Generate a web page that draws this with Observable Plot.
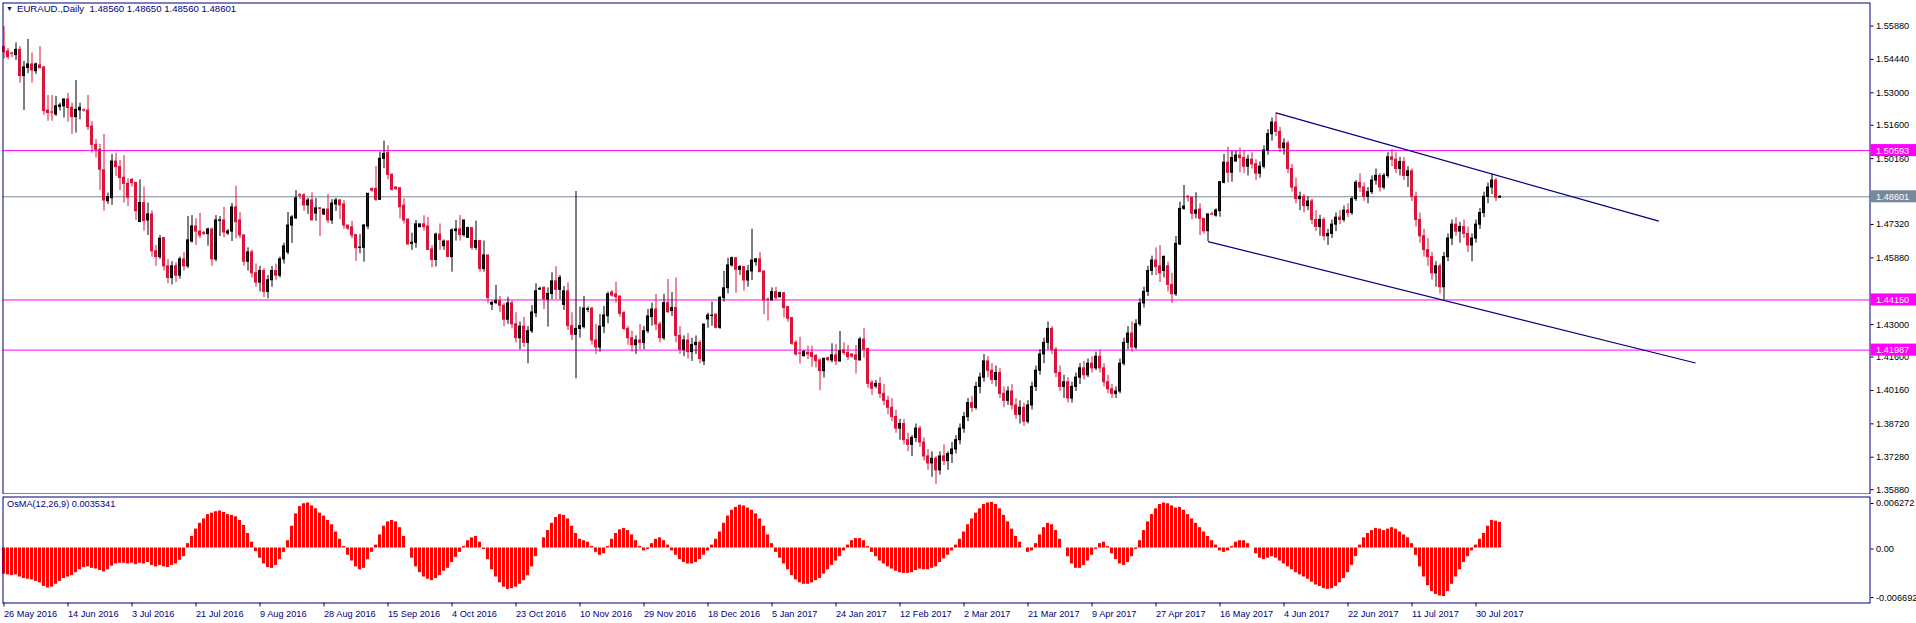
<!DOCTYPE html>
<html><head><meta charset="utf-8">
<script src="https://cdn.jsdelivr.net/npm/d3@7"></script>
<script src="https://cdn.jsdelivr.net/npm/@observablehq/plot@0.6"></script>
<style>
html,body{margin:0;padding:0;background:#fff;}
#wrap{position:relative;width:1916px;height:623px;overflow:hidden;background:#fff;}
#main{position:absolute;left:0;top:0;}
#osma{position:absolute;left:0;top:494px;}
svg{overflow:visible}
</style></head><body><div id="wrap"><div id="main"></div><div id="osma"></div></div>
<script>
const symbolName = "EURAUD.,Daily";
const lastOHLC = [1.48560, 1.48650, 1.48560, 1.48601];
const osmaName = "OsMA(12,26,9)";
const osmaLast = "0.0035341";
const dateLabels = ["26 May 2016","14 Jun 2016","3 Jul 2016","21 Jul 2016","9 Aug 2016","28 Aug 2016","15 Sep 2016","4 Oct 2016","23 Oct 2016","10 Nov 2016","29 Nov 2016","18 Dec 2016","5 Jan 2017","24 Jan 2017","12 Feb 2017","2 Mar 2017","21 Mar 2017","9 Apr 2017","27 Apr 2017","16 May 2017","4 Jun 2017","22 Jun 2017","11 Jul 2017","30 Jul 2017"];
const dateTickBars = [0,16,32,48,64,80,96,112,128,144,160,176,192,208,224,240,256,272,288,304,320,336,352,368];
const priceTicks = [1.55880,1.54440,1.53000,1.51600,1.50160,1.47320,1.45880,1.43000,1.41600,1.40160,1.38720,1.37280,1.35880];
const levelPrices = [1.50593, 1.44150, 1.41987];
const bidPrice = 1.48601;
const osmaTicks = [0.006272, 0, -0.006692];
const trendBars1 = [318, 413.7], trendPrices1 = [1.5222, 1.4755];
const trendBars2 = [301, 422.9], trendPrices2 = [1.4667, 1.4143];

const open = [
1.5506,1.5487,1.5478,1.5471,1.5494,1.5381,1.5416,1.5431,1.5402,1.5427,
1.5418,1.5232,1.5224,1.5215,1.5248,1.5250,1.5280,1.5244,1.5204,1.5233,
1.5233,1.5232,1.5163,1.5084,1.5063,1.4974,1.4841,1.4854,1.5012,1.4988,
1.4942,1.4916,1.4933,1.4920,1.4751,1.4833,1.4758,1.4784,1.4625,1.4600,
1.4682,1.4560,1.4510,1.4560,1.4520,1.4590,1.4560,1.4667,1.4732,1.4710,
1.4703,1.4699,1.4719,1.4590,1.4756,1.4758,1.4702,1.4710,1.4814,1.4758,
1.4693,1.4580,1.4620,1.4530,1.4490,1.4540,1.4450,1.4500,1.4540,1.4520,
1.4590,1.4620,1.4736,1.4767,1.4867,1.4866,1.4823,1.4844,1.4788,1.4810,
1.4784,1.4805,1.4758,1.4827,1.4844,1.4827,1.4736,1.4728,1.4695,1.4640,
1.4640,1.4732,1.4894,1.4894,1.4847,1.5024,1.5048,1.4955,1.4900,1.4897,
1.4822,1.4762,1.4657,1.4662,1.4729,1.4741,1.4732,1.4633,1.4588,1.4697,
1.4647,1.4667,1.4600,1.4712,1.4719,1.4695,1.4683,1.4725,1.4640,1.4669,
1.4549,1.4607,1.4395,1.4402,1.4410,1.4390,1.4330,1.4400,1.4310,1.4250,
1.4300,1.4230,1.4280,1.4358,1.4460,1.4466,1.4417,1.4441,1.4495,1.4459,
1.4394,1.4452,1.4302,1.4265,1.4290,1.4298,1.4373,1.4378,1.4240,1.4210,
1.4300,1.4345,1.4447,1.4439,1.4430,1.4358,1.4290,1.4250,1.4220,1.4240,
1.4230,1.4280,1.4341,1.4374,1.4309,1.4250,1.4401,1.4367,1.4380,1.4260,
1.4200,1.4240,1.4190,1.4220,1.4230,1.4150,1.4331,1.4346,1.4352,1.4295,
1.4423,1.4466,1.4564,1.4595,1.4545,1.4557,1.4499,1.4538,1.4578,1.4590,
1.4538,1.4416,1.4413,1.4449,1.4427,1.4444,1.4384,1.4337,1.4230,1.4184,
1.4173,1.4187,1.4187,1.4173,1.4154,1.4108,1.4164,1.4154,1.4176,1.4150,
1.4197,1.4187,1.4180,1.4176,1.4154,1.4244,1.4204,1.4056,1.4042,1.4053,
1.4010,1.3980,1.3950,1.3910,1.3860,1.3880,1.3810,1.3790,1.3820,1.3860,
1.3800,1.3740,1.3710,1.3730,1.3680,1.3740,1.3720,1.3750,1.3770,1.3810,
1.3860,1.3910,1.3970,1.3950,1.4040,1.4080,1.4150,1.4110,1.4070,1.4100,
1.4010,1.3980,1.4020,1.3960,1.3920,1.3950,1.3890,1.3960,1.4040,1.4110,
1.4180,1.4230,1.4290,1.4200,1.4100,1.4040,1.4060,1.3990,1.4040,1.4080,
1.4120,1.4090,1.4140,1.4120,1.4170,1.4120,1.4060,1.4030,1.4010,1.4020,
1.4140,1.4230,1.4270,1.4210,1.4310,1.4400,1.4450,1.4540,1.4585,1.4560,
1.4540,1.4560,1.4480,1.4440,1.4654,1.4808,1.4860,1.4856,1.4787,1.4805,
1.4765,1.4712,1.4784,1.4779,1.4798,1.4920,1.5007,1.4964,1.5012,1.5038,
1.5027,1.4990,1.5020,1.5000,1.4960,1.4990,1.5060,1.5130,1.5180,1.5140,
1.5070,1.5090,1.4980,1.4900,1.4850,1.4860,1.4820,1.4840,1.4760,1.4730,
1.4760,1.4690,1.4700,1.4740,1.4770,1.4760,1.4800,1.4790,1.4850,1.4920,
1.4900,1.4860,1.4880,1.4930,1.4950,1.4900,1.4950,1.5030,1.5020,1.4980,
1.5010,1.4950,1.4970,1.4860,1.4760,1.4690,1.4630,1.4600,1.4530,1.4560,
1.4470,1.4600,1.4680,1.4740,1.4710,1.4730,1.4700,1.4650,1.4680,1.4740,
1.4790,1.4860,1.4900,1.4930,1.48560];

const high = [
1.5595,1.5500,1.5484,1.5524,1.5508,1.5444,1.5539,1.5480,1.5437,1.5508,
1.5422,1.5297,1.5297,1.5293,1.5264,1.5280,1.5306,1.5264,1.5362,1.5264,
1.5240,1.5297,1.5185,1.5107,1.5086,1.5129,1.4876,1.5043,1.5048,1.5017,
1.5038,1.4938,1.4938,1.4920,1.4933,1.4902,1.4833,1.4800,1.4650,1.4693,
1.4685,1.4590,1.4580,1.4575,1.4600,1.4620,1.4775,1.4779,1.4765,1.4789,
1.4710,1.4725,1.4725,1.4779,1.4775,1.4814,1.4719,1.4831,1.4906,1.4792,
1.4697,1.4640,1.4630,1.4570,1.4560,1.4550,1.4520,1.4560,1.4570,1.4600,
1.4660,1.4792,1.4779,1.4887,1.4874,1.4874,1.4853,1.4877,1.4853,1.4814,
1.4805,1.4870,1.4848,1.4853,1.4848,1.4844,1.4736,1.4754,1.4695,1.4697,
1.4741,1.4873,1.4897,1.4991,1.5053,1.5100,1.5080,1.4959,1.4904,1.4900,
1.4851,1.4762,1.4703,1.4758,1.4741,1.4778,1.4771,1.4650,1.4703,1.4743,
1.4674,1.4671,1.4722,1.4758,1.4779,1.4758,1.4729,1.4725,1.4755,1.4669,
1.4669,1.4607,1.4410,1.4478,1.4430,1.4400,1.4427,1.4410,1.4360,1.4320,
1.4340,1.4300,1.4391,1.4485,1.4470,1.4473,1.4467,1.4532,1.4559,1.4521,
1.4473,1.4488,1.4360,1.4883,1.4384,1.4430,1.4385,1.4381,1.4309,1.4352,
1.4387,1.4449,1.4456,1.4492,1.4430,1.4365,1.4300,1.4280,1.4260,1.4309,
1.4300,1.4374,1.4401,1.4439,1.4320,1.4439,1.4503,1.4447,1.4510,1.4300,
1.4260,1.4270,1.4250,1.4260,1.4240,1.4309,1.4358,1.4406,1.4352,1.4430,
1.4538,1.4595,1.4600,1.4595,1.4564,1.4557,1.4564,1.4720,1.4593,1.4620,
1.4538,1.4424,1.4467,1.4470,1.4449,1.4444,1.4384,1.4337,1.4240,1.4254,
1.4197,1.4216,1.4216,1.4181,1.4161,1.4164,1.4168,1.4226,1.4222,1.4279,
1.4230,1.4219,1.4183,1.4219,1.4254,1.4291,1.4204,1.4068,1.4068,1.4080,
1.4050,1.4000,1.3990,1.3940,1.3900,1.3900,1.3840,1.3830,1.3880,1.3870,
1.3820,1.3770,1.3760,1.3740,1.3760,1.3790,1.3760,1.3800,1.3830,1.3880,
1.3930,1.3990,1.4000,1.4060,1.4100,1.4180,1.4170,1.4140,1.4130,1.4120,
1.4040,1.4040,1.4050,1.3990,1.3980,1.3970,1.3980,1.4060,1.4130,1.4200,
1.4250,1.4320,1.4300,1.4210,1.4130,1.4090,1.4080,1.4060,1.4100,1.4140,
1.4150,1.4160,1.4170,1.4190,1.4200,1.4140,1.4090,1.4050,1.4040,1.4160,
1.4250,1.4300,1.4320,1.4330,1.4420,1.4470,1.4560,1.4604,1.4640,1.4650,
1.4604,1.4578,1.4530,1.4689,1.4837,1.4909,1.4866,1.4856,1.4877,1.4830,
1.4765,1.4784,1.4794,1.4808,1.4923,1.5043,1.5074,1.5056,1.5056,1.5070,
1.5060,1.5040,1.5050,1.5020,1.5010,1.5080,1.5150,1.5200,1.5222,1.5160,
1.5110,1.5100,1.5000,1.4940,1.4880,1.4870,1.4860,1.4850,1.4800,1.4780,
1.4770,1.4720,1.4760,1.4790,1.4800,1.4820,1.4830,1.4860,1.4930,1.4960,
1.4920,1.4900,1.4950,1.4980,1.4960,1.4960,1.5050,1.5065,1.5050,1.5030,
1.5030,1.4990,1.4980,1.4880,1.4790,1.4720,1.4680,1.4620,1.4580,1.4570,
1.4620,1.4700,1.4760,1.4770,1.4750,1.4760,1.4730,1.4700,1.4760,1.4810,
1.4880,1.4920,1.4958,1.4940,1.48650];

const low = [
1.5455,1.5451,1.5460,1.5448,1.5350,1.5232,1.5391,1.5350,1.5388,1.5412,
1.5211,1.5186,1.5186,1.5207,1.5230,1.5200,1.5182,1.5129,1.5135,1.5192,
1.5225,1.5146,1.5048,1.5027,1.4887,1.4798,1.4827,1.4823,1.4948,1.4887,
1.4833,1.4818,1.4902,1.4758,1.4751,1.4712,1.4693,1.4600,1.4560,1.4590,
1.4540,1.4485,1.4480,1.4490,1.4505,1.4540,1.4550,1.4660,1.4650,1.4679,
1.4693,1.4647,1.4560,1.4580,1.4689,1.4683,1.4693,1.4667,1.4679,1.4679,
1.4560,1.4540,1.4510,1.4470,1.4450,1.4425,1.4420,1.4470,1.4500,1.4510,
1.4570,1.4610,1.4659,1.4762,1.4848,1.4797,1.4784,1.4758,1.4754,1.4689,
1.4779,1.4745,1.4741,1.4797,1.4762,1.4720,1.4715,1.4679,1.4582,1.4614,
1.4578,1.4719,1.4880,1.4840,1.4847,1.4981,1.4933,1.4884,1.4887,1.4765,
1.4743,1.4654,1.4629,1.4638,1.4729,1.4712,1.4631,1.4554,1.4557,1.4629,
1.4629,1.4600,1.4535,1.4669,1.4669,1.4686,1.4683,1.4629,1.4629,1.4535,
1.4535,1.4398,1.4370,1.4395,1.4360,1.4300,1.4310,1.4290,1.4230,1.4200,
1.4210,1.4140,1.4270,1.4338,1.4456,1.4374,1.4298,1.4417,1.4417,1.4417,
1.4370,1.4283,1.4240,1.4075,1.4250,1.4290,1.4360,1.4220,1.4180,1.4190,
1.4270,1.4312,1.4427,1.4401,1.4341,1.4283,1.4220,1.4190,1.4180,1.4200,
1.4200,1.4270,1.4302,1.4283,1.4230,1.4240,1.4358,1.4344,1.4230,1.4180,
1.4170,1.4160,1.4150,1.4180,1.4140,1.4132,1.4293,1.4302,1.4291,1.4288,
1.4406,1.4441,1.4557,1.4444,1.4521,1.4453,1.4470,1.4499,1.4561,1.4532,
1.4352,1.4324,1.4413,1.4413,1.4423,1.4337,1.4319,1.4219,1.4173,1.4139,
1.4168,1.4158,1.4125,1.4122,1.4024,1.4078,1.4150,1.4144,1.4132,1.4147,
1.4176,1.4154,1.4164,1.4096,1.4154,1.4164,1.4034,1.4003,1.4032,1.3990,
1.3960,1.3920,1.3890,1.3840,1.3810,1.3790,1.3760,1.3740,1.3800,1.3780,
1.3720,1.3680,1.3650,1.3620,1.3660,1.3700,1.3680,1.3710,1.3750,1.3790,
1.3840,1.3890,1.3930,1.3940,1.4010,1.4060,1.4080,1.4050,1.4040,1.3990,
1.3950,1.3960,1.3940,1.3900,1.3880,1.3870,1.3880,1.3940,1.4020,1.4090,
1.4140,1.4200,1.4180,1.4080,1.4020,1.3990,1.3970,1.3970,1.4020,1.4050,
1.4070,1.4080,1.4100,1.4110,1.4100,1.4040,1.4010,1.3990,1.3990,1.4010,
1.4130,1.4200,1.4190,1.4200,1.4300,1.4380,1.4430,1.4520,1.4520,1.4490,
1.4510,1.4450,1.4400,1.4430,1.4650,1.4801,1.4837,1.4761,1.4765,1.4693,
1.4700,1.4667,1.4779,1.4772,1.4772,1.4916,1.4920,1.4923,1.5012,1.4964,
1.4960,1.4950,1.4980,1.4930,1.4940,1.4980,1.5040,1.5100,1.5120,1.5050,
1.5040,1.4960,1.4880,1.4830,1.4800,1.4790,1.4800,1.4740,1.4710,1.4690,
1.4670,1.4650,1.4680,1.4710,1.4740,1.4750,1.4770,1.4780,1.4840,1.4880,
1.4840,1.4830,1.4870,1.4910,1.4880,1.4890,1.4940,1.4990,1.4960,1.4950,
1.4930,1.4900,1.4840,1.4730,1.4660,1.4600,1.4560,1.4500,1.4470,1.4440,
1.4415,1.4580,1.4650,1.4690,1.4660,1.4680,1.4620,1.4580,1.4660,1.4720,
1.4770,1.4830,1.4870,1.4840,1.48560];

const close = [
1.5484,1.5463,1.5477,1.5494,1.5381,1.5418,1.5431,1.5405,1.5431,1.5415,
1.5230,1.5221,1.5223,1.5250,1.5254,1.5280,1.5243,1.5204,1.5235,1.5244,
1.5232,1.5161,1.5084,1.5063,1.4977,1.4844,1.4859,1.5012,1.4988,1.4941,
1.4916,1.4856,1.4919,1.4798,1.4833,1.4755,1.4784,1.4625,1.4600,1.4679,
1.4560,1.4510,1.4560,1.4520,1.4590,1.4560,1.4672,1.4732,1.4710,1.4693,
1.4700,1.4719,1.4590,1.4758,1.4758,1.4706,1.4710,1.4814,1.4751,1.4693,
1.4580,1.4620,1.4530,1.4490,1.4540,1.4450,1.4500,1.4540,1.4520,1.4590,
1.4646,1.4736,1.4771,1.4853,1.4865,1.4823,1.4844,1.4758,1.4810,1.4808,
1.4805,1.4758,1.4831,1.4844,1.4823,1.4736,1.4723,1.4693,1.4638,1.4641,
1.4736,1.4873,1.4887,1.4847,1.5024,1.5045,1.4955,1.4890,1.4893,1.4815,
1.4758,1.4654,1.4662,1.4741,1.4741,1.4729,1.4631,1.4588,1.4697,1.4674,
1.4667,1.4600,1.4715,1.4719,1.4695,1.4758,1.4725,1.4640,1.4669,1.4549,
1.4607,1.4423,1.4402,1.4410,1.4390,1.4330,1.4400,1.4310,1.4250,1.4300,
1.4230,1.4280,1.4361,1.4452,1.4463,1.4417,1.4441,1.4495,1.4459,1.4510,
1.4452,1.4302,1.4265,1.4290,1.4302,1.4378,1.4375,1.4240,1.4210,1.4300,
1.4348,1.4439,1.4434,1.4427,1.4355,1.4290,1.4250,1.4220,1.4240,1.4230,
1.4280,1.4344,1.4374,1.4309,1.4250,1.4401,1.4362,1.4380,1.4260,1.4200,
1.4240,1.4190,1.4220,1.4230,1.4160,1.4309,1.4348,1.4347,1.4295,1.4424,
1.4465,1.4564,1.4595,1.4545,1.4557,1.4499,1.4538,1.4585,1.4590,1.4535,
1.4413,1.4415,1.4449,1.4423,1.4444,1.4380,1.4334,1.4226,1.4180,1.4183,
1.4190,1.4180,1.4169,1.4151,1.4108,1.4161,1.4155,1.4176,1.4150,1.4193,
1.4186,1.4168,1.4171,1.4157,1.4244,1.4201,1.4053,1.4032,1.4053,1.4010,
1.3980,1.3950,1.3910,1.3860,1.3880,1.3810,1.3790,1.3820,1.3860,1.3800,
1.3740,1.3710,1.3730,1.3680,1.3740,1.3720,1.3750,1.3770,1.3810,1.3860,
1.3910,1.3970,1.3950,1.4040,1.4080,1.4150,1.4110,1.4070,1.4100,1.4010,
1.3980,1.4020,1.3960,1.3920,1.3950,1.3890,1.3960,1.4040,1.4110,1.4180,
1.4230,1.4290,1.4200,1.4100,1.4040,1.4060,1.3990,1.4040,1.4080,1.4120,
1.4090,1.4140,1.4120,1.4170,1.4120,1.4060,1.4030,1.4010,1.4020,1.4140,
1.4230,1.4270,1.4210,1.4310,1.4400,1.4450,1.4540,1.4585,1.4557,1.4530,
1.4601,1.4480,1.4440,1.4657,1.4808,1.4818,1.4858,1.4787,1.4801,1.4765,
1.4711,1.4784,1.4783,1.4801,1.4923,1.5007,1.4964,1.5027,1.5038,1.5027,
1.4990,1.5020,1.5000,1.4960,1.4990,1.5060,1.5130,1.5180,1.5140,1.5070,
1.5090,1.4980,1.4900,1.4850,1.4860,1.4820,1.4840,1.4760,1.4730,1.4760,
1.4690,1.4700,1.4740,1.4770,1.4760,1.4800,1.4790,1.4850,1.4920,1.4900,
1.4860,1.4880,1.4930,1.4950,1.4900,1.4950,1.5030,1.5020,1.4980,1.5010,
1.4950,1.4970,1.4860,1.4760,1.4690,1.4630,1.4600,1.4530,1.4560,1.4470,
1.4600,1.4680,1.4740,1.4710,1.4730,1.4700,1.4650,1.4680,1.4740,1.4790,
1.4860,1.4900,1.4930,1.4856,1.48601];

const osma = [
-0.0036,-0.0037,-0.0038,-0.0037,-0.0040,-0.0042,-0.0043,-0.0044,-0.0046,-0.0048,
-0.0053,-0.0055,-0.0054,-0.0050,-0.0046,-0.0042,-0.0040,-0.0038,-0.0034,-0.0030,
-0.0027,-0.0026,-0.0028,-0.0029,-0.0031,-0.0033,-0.0030,-0.0025,-0.0022,-0.0021,
-0.0021,-0.0022,-0.0021,-0.0023,-0.0021,-0.0022,-0.0020,-0.0024,-0.0026,-0.0024,
-0.0026,-0.0027,-0.0024,-0.0022,-0.0017,-0.0012,0.0006,0.0016,0.0026,0.0034,
0.0040,0.0046,0.0048,0.0050,0.0051,0.0049,0.0046,0.0045,0.0043,0.0038,
0.0031,0.0020,0.0008,-0.0005,-0.0014,-0.0022,-0.0027,-0.0028,-0.0024,-0.0016,
-0.0006,0.0010,0.0030,0.0047,0.0057,0.0061,0.0062,0.0058,0.0054,0.0048,
0.0044,0.0038,0.0032,0.0022,0.0012,0.0002,-0.0010,-0.0018,-0.0026,-0.0030,
-0.0028,-0.0016,-0.0006,0.0004,0.0018,0.0030,0.0036,0.0038,0.0036,0.0028,
0.0016,0.0000,-0.0014,-0.0026,-0.0034,-0.0040,-0.0043,-0.0045,-0.0042,-0.0038,
-0.0032,-0.0028,-0.0020,-0.0013,-0.0006,0.0002,0.0010,0.0014,0.0016,0.0008,
-0.0002,-0.0016,-0.0030,-0.0040,-0.0048,-0.0054,-0.0057,-0.0056,-0.0054,-0.0050,
-0.0045,-0.0038,-0.0026,-0.0012,0.0000,0.0014,0.0024,0.0034,0.0042,0.0046,
0.0045,0.0040,0.0030,0.0020,0.0012,0.0010,0.0008,0.0002,-0.0006,-0.0010,
-0.0008,0.0002,0.0012,0.0020,0.0025,0.0027,0.0024,0.0018,0.0010,0.0002,
-0.0004,-0.0002,0.0006,0.0012,0.0014,0.0010,0.0004,-0.0004,-0.0010,-0.0016,
-0.0020,-0.0022,-0.0022,-0.0020,-0.0016,-0.0010,-0.0004,0.0004,0.0012,0.0022,
0.0034,0.0044,0.0052,0.0056,0.0059,0.0058,0.0055,0.0052,0.0047,0.0040,
0.0030,0.0018,0.0006,-0.0006,-0.0014,-0.0022,-0.0030,-0.0038,-0.0044,-0.0048,
-0.0050,-0.0050,-0.0048,-0.0045,-0.0042,-0.0036,-0.0030,-0.0024,-0.0018,-0.0012,
-0.0004,0.0004,0.0010,0.0013,0.0013,0.0010,0.0002,-0.0006,-0.0012,-0.0018,
-0.0022,-0.0026,-0.0029,-0.0032,-0.0034,-0.0035,-0.0035,-0.0034,-0.0031,-0.0029,
-0.0030,-0.0030,-0.0028,-0.0026,-0.0020,-0.0015,-0.0010,-0.0004,0.0004,0.0012,
0.0022,0.0032,0.0040,0.0048,0.0054,0.0060,0.0062,0.006272,0.0060,0.0054,
0.0045,0.0036,0.0026,0.0016,0.0008,0.0000,-0.0006,-0.0004,0.0006,0.0018,
0.0028,0.0034,0.0032,0.0024,0.0012,0.0000,-0.0012,-0.0022,-0.0028,-0.0028,
-0.0024,-0.0018,-0.0010,-0.0002,0.0006,0.0008,0.0002,-0.0008,-0.0016,-0.0022,
-0.0024,-0.0020,-0.0012,-0.0002,0.0010,0.0024,0.0036,0.0046,0.0054,0.0060,
0.0062,0.0061,0.0058,0.0055,0.0056,0.0052,0.0046,0.0040,0.0034,0.0028,
0.0022,0.0016,0.0010,0.0004,-0.0004,-0.0006,-0.0004,0.0002,0.0008,0.0010,
0.0010,0.0006,0.0000,-0.0008,-0.0014,-0.0016,-0.0014,-0.0012,-0.0014,-0.0018,
-0.0022,-0.0026,-0.0030,-0.0034,-0.0037,-0.0040,-0.0043,-0.0047,-0.0051,-0.0053,
-0.0056,-0.0057,-0.0056,-0.0053,-0.0048,-0.0042,-0.0034,-0.0024,-0.0012,0.0004,
0.0014,0.0020,0.0024,0.0027,0.0026,0.0024,0.0026,0.0028,0.0026,0.0022,
0.0018,0.0014,0.0006,-0.0010,-0.0026,-0.0040,-0.0052,-0.0060,-0.0064,-0.0066,
-0.006692,-0.0060,-0.0050,-0.0040,-0.0030,-0.0020,-0.0012,-0.0004,0.0004,0.0012,
0.0020,0.0030,0.0038,0.0037,0.0035341];

const NAVY = "#000080";
const UP_FILL = "#15153c";
const DOWN = "#dc143c";
const FONT = "'Liberation Sans', Arial, sans-serif";
const FS = 9.2;
const xDomain = [-0.25, 466.5];

const bars = close.map((c, i) => ({i, o: open[i], h: high[i], l: low[i], c, up: c >= open[i]}));
const osmaBars = osma.map((v, i) => ({i, v}));
const trends = [
  {b1: trendBars1[0], p1: trendPrices1[0], b2: trendBars1[1], p2: trendPrices1[1]},
  {b1: trendBars2[0], p1: trendPrices2[0], b2: trendBars2[1], p2: trendPrices2[1]}
];
const labelBoxes = levelPrices.map(p => ({p, bg: "#ff00ff"})).concat([{p: bidPrice, bg: "#778899"}]);
const half = 0.0026;
const fmt5 = d => d.toFixed(5);

const main = Plot.plot({
  width: 1916, height: 496,
  marginLeft: 2.5, marginRight: 46.5, marginTop: 2.5, marginBottom: 2.5,
  x: {domain: xDomain, axis: null, label: null},
  y: {domain: [1.3578, 1.5696], axis: null, label: null},
  style: {background: "#fff", fontFamily: FONT, fontSize: FS + "px", overflow: "visible"},
  marks: [
    Plot.ruleY(levelPrices, {stroke: "#ff00ff", strokeWidth: 1}),
    Plot.ruleY([bidPrice], {stroke: "#778899", strokeWidth: 1}),
    Plot.ruleX(bars, {x: "i", y1: "l", y2: "h", stroke: d => d.up ? "#000" : DOWN, strokeWidth: 1}),
    Plot.rect(bars, {x1: d => d.i - 0.25, x2: d => d.i + 0.25,
      y1: d => Math.min(d.o, d.c), y2: d => Math.max(d.o, d.c),
      fill: d => d.up ? UP_FILL : DOWN, stroke: d => d.up ? "#000" : DOWN, strokeWidth: 1}),
    Plot.link(trends, {x1: "b1", y1: "p1", x2: "b2", y2: "p2", stroke: NAVY, strokeWidth: 1.2}),
    Plot.frame({stroke: NAVY, strokeWidth: 1}),
    Plot.axisY({anchor: "right", label: null, ticks: priceTicks, tickFormat: fmt5, tickSize: 3, tickPadding: 3,
      color: "#000", fontSize: FS, dy: -2}),
    Plot.rect(labelBoxes, {x1: 466.75, x2: 478.5, y1: d => d.p - half, y2: d => d.p + half, fill: "bg"}),
    Plot.text(labelBoxes, {x: 466.75, y: "p", text: d => fmt5(d.p), fill: "#fff", textAnchor: "start", dx: 5, fontSize: FS}),
    Plot.text(["\u25BC"], {frameAnchor: "top-left", dx: 3, dy: 3, lineAnchor: "top", textAnchor: "start", fill: NAVY, fontSize: 7}),
    Plot.text([symbolName + "  " + lastOHLC.map(fmt5).join(" ")], {frameAnchor: "top-left", dx: 14, dy: 2, lineAnchor: "top", textAnchor: "start", fill: NAVY, fontSize: 9.6})
  ]
});
document.getElementById("main").appendChild(main);

const labelFor = d => { const k = dateTickBars.indexOf(d); return k >= 0 ? dateLabels[k] : ""; };
const osmaPlot = Plot.plot({
  width: 1916, height: 129,
  marginLeft: 2.5, marginRight: 46.5, marginTop: 2.5, marginBottom: 20.5,
  x: {domain: xDomain, axis: null, label: null},
  y: {domain: [-0.007579, 0.007028], axis: null, label: null},
  style: {background: "#fff", fontFamily: FONT, fontSize: FS + "px", overflow: "visible"},
  marks: [
    Plot.rect(osmaBars, {x1: d => d.i - 0.375, x2: d => d.i + 0.375, y1: 0, y2: "v", fill: "#ff0000"}),
    Plot.frame({stroke: NAVY, strokeWidth: 1}),
    Plot.axisY({anchor: "right", label: null, ticks: osmaTicks, tickFormat: d => d === 0 ? "0.00" : d.toFixed(6), tickSize: 3, tickPadding: 3, color: "#000", fontSize: FS, dy: 1}),
    Plot.axisX({anchor: "bottom", label: null, ticks: dateTickBars, tickFormat: labelFor, textAnchor: "start", tickSize: 4, tickPadding: 3, color: NAVY, fontSize: FS}),
    Plot.text([osmaName + " " + osmaLast], {frameAnchor: "top-left", dx: 4, dy: 3, lineAnchor: "top", textAnchor: "start", fill: NAVY, fontSize: FS})
  ]
});
document.getElementById("osma").appendChild(osmaPlot);
</script></body></html>
